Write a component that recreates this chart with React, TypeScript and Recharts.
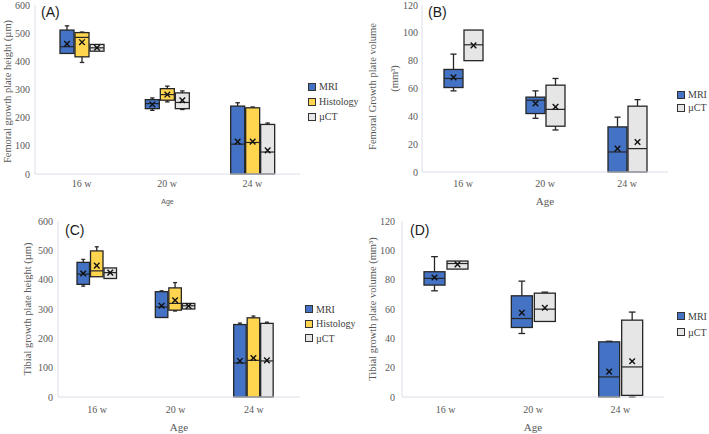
import React from 'react';
import { ComposedChart, Bar, XAxis, YAxis, Legend } from 'recharts';

const categories = ['16 w', '20 w', '24 w'];

// each entry: [min, q1, median, q3, max, mean]
const femHeightMRI = [[428, 428, 452, 511, 526, 462], [226, 232, 250, 264, 270, 247], [0, 0, 106, 241, 253, 115]];
const femHeightHisto = [[396, 416, 485, 502, 504, 468], [256, 262, 282, 303, 312, 282], [0, 0, 112, 235, 238, 115]];
const femHeightCT = [[436, 436, 448, 460, 460, 448], [229, 232, 254, 288, 295, 262], [0, 0, 78, 176, 181, 84]];

const femVolMRI = [[58.3, 60.7, 67.2, 73.7, 84.7, 68], [38.6, 42, 51.6, 53.8, 58.3, 49.2], [0, 0, 14.4, 32.4, 39.4, 16.8]];
const femVolCT = [[80, 80, 91.4, 102, 102, 91], [30.2, 32.9, 45, 62.4, 67.2, 46.8], [0, 0, 16.8, 47.3, 52, 21.6]];

const tibHeightMRI = [[378, 384, 419, 459, 469, 421], [271, 271, 307, 359, 362, 311], [0, 0, 116, 247, 252, 123]];
const tibHeightHisto = [[410, 410, 430, 498, 512, 448], [293, 296, 319, 372, 390, 330], [0, 0, 125, 270, 276, 133]];
const tibHeightCT = [[404, 404, 424, 440, 440, 424], [300, 300, 311, 319, 319, 310], [0, 0, 123, 251, 255, 125]];

const tibVolMRI = [[72.4, 76.3, 80.9, 85.4, 95.7, 81.5], [43.3, 47.4, 53.5, 69, 79, 57.4], [0, 0, 13.7, 37.6, 38, 17.3]];
const tibVolCT = [[87.2, 87.2, 91, 92.7, 92.7, 90.4], [51.5, 51.5, 59.9, 70.8, 71.5, 60.8], [0, 1.1, 20.5, 52.4, 57.9, 24.4]];

const heightTicks = [0, 100, 200, 300, 400, 500, 600];
const volumeTicks = [0, 20, 40, 60, 80, 100, 120];

const COLORS: Record<string, string> = { mri: '#4472c4', hist: '#ffd54f', ct: '#e6e6e6' };
const NAMES: Record<string, string> = { mri: 'MRI', hist: 'Histology', ct: 'µCT' };
const SERIF = "'Liberation Serif', 'Times New Roman', serif";
const SANS = "'Liberation Sans', Arial, sans-serif";
const TICK = '#595959';
const FRAME = '#d9dee7';
const STROKE = '#262626';

function BoxShape(props: any) {
  const { x, y, width, height, payload, skey, color } = props;
  const s = payload[skey];
  const [mn, q1, md, q3, mx, mean] = s;
  const top = height >= 0 ? y : y + height;
  const h = Math.abs(height);
  const k = q3 !== q1 ? h / (q3 - q1) : 0;
  const py = (v: number) => top + (q3 - v) * k;
  const cx = x + width / 2;
  const cap = width * 0.32;
  const m = 2.8;
  const my = py(mean);
  return (
    <g>
      {mx > q3 && (
        <g stroke={STROKE} strokeWidth={1.3}>
          <line x1={cx} x2={cx} y1={py(mx)} y2={top} />
          <line x1={cx - cap / 2} x2={cx + cap / 2} y1={py(mx)} y2={py(mx)} />
        </g>
      )}
      {mn < q1 && (
        <g stroke={STROKE} strokeWidth={1.3}>
          <line x1={cx} x2={cx} y1={top + h} y2={py(mn)} />
          <line x1={cx - cap / 2} x2={cx + cap / 2} y1={py(mn)} y2={py(mn)} />
        </g>
      )}
      <rect x={x} y={top} width={width} height={h} fill={color} stroke={STROKE} strokeWidth={1.3} />
      <line x1={x} x2={x + width} y1={py(md)} y2={py(md)} stroke={STROKE} strokeWidth={1.2} />
      <g stroke="#111" strokeWidth={1.4}>
        <line x1={cx - m} x2={cx + m} y1={my - m} y2={my + m} />
        <line x1={cx - m} x2={cx + m} y1={my + m} y2={my - m} />
      </g>
    </g>
  );
}

type PanelProps = {
  left: number; top: number; width: number; height: number;
  keys: string[]; series: number[][][];
  yMax: number; ticks: number[];
  margin: { top: number; right: number; bottom: number; left: number };
  yW: number; xH: number; xPad: { left: number; right: number };
  barSize: number; barGap: number;
  yTS: number; xTS: number;
  titles: { text: string; x: number; dy: number }[];
  letter: string; letterDx: number; letterDy: number;
  ageSize: number; ageFont: string;
  legX: number; legY: number; legRow: number;
};

function Panel(p: PanelProps) {
  const rows = categories.map((cat, i) => {
    const r: any = { cat };
    p.keys.forEach((k, j) => { r[k] = p.series[j][i]; });
    return r;
  });
  const legendContent = () => (
    <div style={{ display: 'flex', flexDirection: 'column' }}>
      {p.keys.map((k) => (
        <div key={k} style={{ display: 'flex', alignItems: 'center', height: p.legRow, fontFamily: SERIF, fontSize: 10, color: '#404040', whiteSpace: 'nowrap' }}>
          <span style={{ display: 'inline-block', width: 6, height: 6, background: COLORS[k], border: '1px solid #333', marginRight: 3 }} />
          {NAMES[k]}
        </div>
      ))}
    </div>
  );
  return (
    <div style={{ position: 'absolute', left: p.left, top: p.top, width: p.width, height: p.height }}>
      <ComposedChart width={p.width} height={p.height} data={rows} margin={p.margin} barGap={p.barGap} barSize={p.barSize}>
        <XAxis
          dataKey="cat"
          height={p.xH}
          padding={p.xPad}
          tickLine={false}
          axisLine={{ stroke: FRAME }}
          tick={{ fill: TICK, fontSize: 10, fontFamily: SERIF }}
          tickSize={p.xTS}
          tickMargin={2}
          interval={0}
          label={{
            content: (lp: any) => {
              const vb = lp.viewBox;
              return (
                <text x={vb.x + vb.width / 2} y={vb.y + vb.height} textAnchor="middle" fill={TICK} fontSize={p.ageSize} fontFamily={p.ageFont}>Age</text>
              );
            },
          }}
        />
        <XAxis
          xAxisId="top"
          orientation="top"
          dataKey="cat"
          height={0}
          tick={false}
          tickLine={false}
          axisLine={{ stroke: FRAME }}
        />
        <YAxis
          domain={[0, p.yMax]}
          ticks={p.ticks}
          interval={0}
          width={p.yW}
          tickLine={false}
          axisLine={{ stroke: FRAME }}
          tick={{ fill: TICK, fontSize: 10, fontFamily: SERIF }}
          tickSize={p.yTS}
          tickMargin={2}
          label={{
            content: (lp: any) => {
              const vb = lp.viewBox;
              return (
                <g>
                  {p.titles.map((t, i) => {
                    const tx = vb.x + t.x;
                    const ty = vb.y + vb.height / 2 + t.dy;
                    return (
                      <text key={i} x={tx} y={ty} transform={`rotate(-90 ${tx} ${ty})`} textAnchor="middle" dominantBaseline="central" fill={TICK} fontSize={10.5} fontFamily={SERIF}>{t.text}</text>
                    );
                  })}
                  <text x={vb.x + vb.width + p.letterDx} y={vb.y + p.letterDy} fill="#1a1a1a" fontSize={14} fontFamily={SANS}>{p.letter}</text>
                </g>
              );
            },
          }}
        />
        <YAxis yAxisId="r" orientation="right" width={0} tick={false} tickLine={false} axisLine={{ stroke: FRAME }} domain={[0, 1]} />
        {p.keys.map((k) => (
          <Bar
            key={k}
            dataKey={(d: any) => [d[k][1], d[k][3]]}
            name={NAMES[k]}
            fill={COLORS[k]}
            isAnimationActive={false}
            shape={(sp: any) => <BoxShape {...sp} skey={k} color={COLORS[k]} />}
          />
        ))}
        <Legend
          layout="vertical"
          align="center"
          verticalAlign="middle"
          wrapperStyle={{ left: p.legX, top: p.legY, width: 'auto', height: 'auto' }}
          content={legendContent}
        />
      </ComposedChart>
    </div>
  );
}

export default function App() {
  return (
    <div style={{ position: 'absolute', left: 0, top: 0, width: 709, height: 434, background: '#fff', overflow: 'hidden' }}>
      <Panel
        left={0} top={0} width={360} height={210}
        keys={['mri', 'hist', 'ct']} series={[femHeightMRI, femHeightHisto, femHeightCT]}
        yMax={600} ticks={heightTicks}
        margin={{ top: 5, right: 60, bottom: 6, left: 0 }}
        yW={35} xH={30} xPad={{ left: 4, right: 5 }}
        barSize={14} barGap={1} yTS={3} xTS={4}
        titles={[{ text: 'Femoral growth plate height (µm)', x: 7, dy: 2 }]}
        letter="(A)" letterDx={6} letterDy={12}
        ageSize={7} ageFont={SANS}
        legX={308} legY={79} legRow={15}
      />
      <Panel
        left={360} top={0} width={349} height={210}
        keys={['mri', 'ct']} series={[femVolMRI, femVolCT]}
        yMax={120} ticks={volumeTicks}
        margin={{ top: 5, right: 41, bottom: 5, left: 0 }}
        yW={62} xH={33} xPad={{ left: 0, right: 0 }}
        barSize={19} barGap={1} yTS={2} xTS={6}
        titles={[{ text: 'Femoral Growth plate volume', x: 12, dy: -2 }, { text: '(mm³)', x: 34, dy: -10 }]}
        letter="(B)" letterDx={6} letterDy={12}
        ageSize={11} ageFont={SERIF}
        legX={317} legY={88} legRow={13}
      />
      <Panel
        left={0} top={210} width={360} height={224}
        keys={['mri', 'hist', 'ct']} series={[tibHeightMRI, tibHeightHisto, tibHeightCT]}
        yMax={600} ticks={heightTicks}
        margin={{ top: 11, right: 60, bottom: 3, left: 0 }}
        yW={58} xH={34} xPad={{ left: 0, right: 7 }}
        barSize={12.5} barGap={1} yTS={3} xTS={7}
        titles={[{ text: 'Tibial growth plate height (µm)', x: 27, dy: 0 }]}
        letter="(C)" letterDx={7} letterDy={14}
        ageSize={11} ageFont={SERIF}
        legX={305} legY={92} legRow={14.5}
      />
      <Panel
        left={360} top={210} width={349} height={224}
        keys={['mri', 'ct']} series={[tibVolMRI, tibVolCT]}
        yMax={120} ticks={volumeTicks}
        margin={{ top: 11, right: 45, bottom: 3, left: 0 }}
        yW={42} xH={34} xPad={{ left: 0, right: 0 }}
        barSize={21} barGap={2} yTS={5} xTS={7}
        titles={[{ text: 'Tibial growth plate volume (mm³)', x: 12, dy: 0 }]}
        letter="(D)" letterDx={8} letterDy={14}
        ageSize={11} ageFont={SERIF}
        legX={317} legY={98} legRow={16}
      />
    </div>
  );
}
